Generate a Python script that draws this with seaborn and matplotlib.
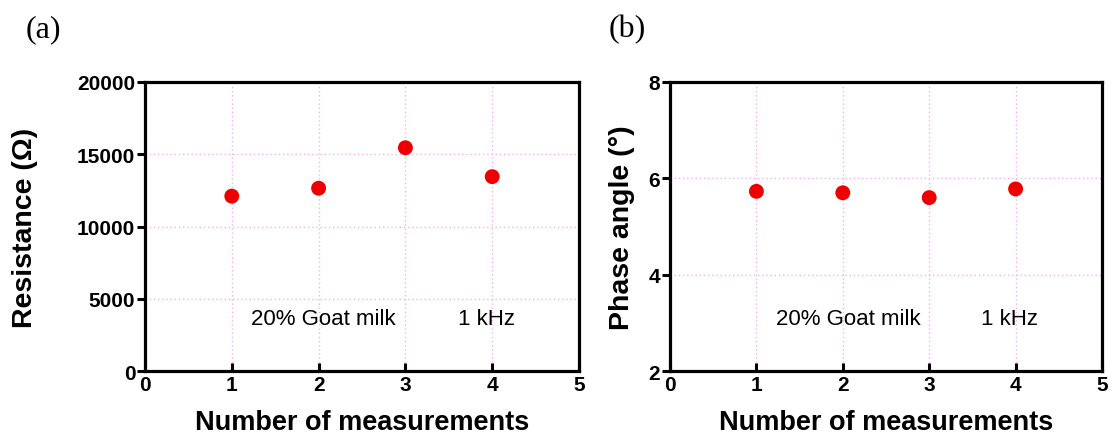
import matplotlib
matplotlib.use("Agg")
import matplotlib.pyplot as plt
import seaborn as sns
import pandas as pd

measurements = [1, 2, 3, 4]
resistance = [12100, 12650, 15450, 13450]
phase_angle = [5.73, 5.70, 5.60, 5.78]
sample_text = "20% Goat milk"
freq_text = "1 kHz"

sns.set_theme(style="white")
plt.rcParams['font.family'] = ['Liberation Sans', 'DejaVu Sans']

fig = plt.figure(figsize=(11.12, 4.39), dpi=100)
W, H = 1112, 439
ax1 = fig.add_axes([145 / W, 1 - 372 / H, 434 / W, 289 / H])
ax2 = fig.add_axes([670 / W, 1 - 372 / H, 432 / W, 289 / H])

df1 = pd.DataFrame({"n": measurements, "v": resistance})
df2 = pd.DataFrame({"n": measurements, "v": phase_angle})

panels = [
    (ax1, df1, (0, 20000), [0, 5000, 10000, 15000, 20000], "Resistance (\u03a9)", 3600, 28),
    (ax2, df2, (2, 8), [2, 4, 6, 8], "Phase angle (\u00b0)", 3.08, 10),
]

for ax, df, ylim, yticks, ylabel, ytext, lpad in panels:
    sns.scatterplot(data=df, x="n", y="v", ax=ax, color="#ee0000", s=115,
                    edgecolor="none", zorder=3, clip_on=False)
    ax.set_xlim(0, 5)
    ax.set_ylim(*ylim)
    ax.set_xticks([0, 1, 2, 3, 4, 5])
    ax.set_yticks(yticks)
    ax.grid(True, color="#f4b0f4", linestyle=(0, (1, 2)), linewidth=1.0)
    for s in ax.spines.values():
        s.set_visible(True)
        s.set_color("black")
        s.set_linewidth(2.3)
    ax.tick_params(axis="y", direction="out", length=6, width=2.2, colors="black",
                   labelsize=15, pad=1, left=True)
    ax.tick_params(axis="x", direction="in", length=6, width=2.2, colors="black",
                   labelsize=15, pad=3, bottom=True)
    for lab in ax.get_xticklabels() + ax.get_yticklabels():
        lab.set_fontweight("bold")
    ax.set_xlabel("Number of measurements", fontsize=19.5, fontweight="bold",
                  labelpad=11, color="black")
    ax.set_ylabel(ylabel, fontsize=20.5, fontweight="bold", labelpad=lpad, color="black")
    ax.text(2.06, ytext, sample_text, ha="center", va="center", fontsize=16, color="black")
    ax.text(3.93, ytext, freq_text, ha="center", va="center", fontsize=16, color="black")

fig.text(43 / W, 1 - 30 / H, "(a)", fontsize=23, family=["Liberation Serif"],
         ha="center", va="center", color="black")
fig.text(627 / W, 1 - 30 / H, "(b)", fontsize=23, family=["Liberation Serif"],
         ha="center", va="center", color="black")

fig.savefig("out.png", dpi=100)
